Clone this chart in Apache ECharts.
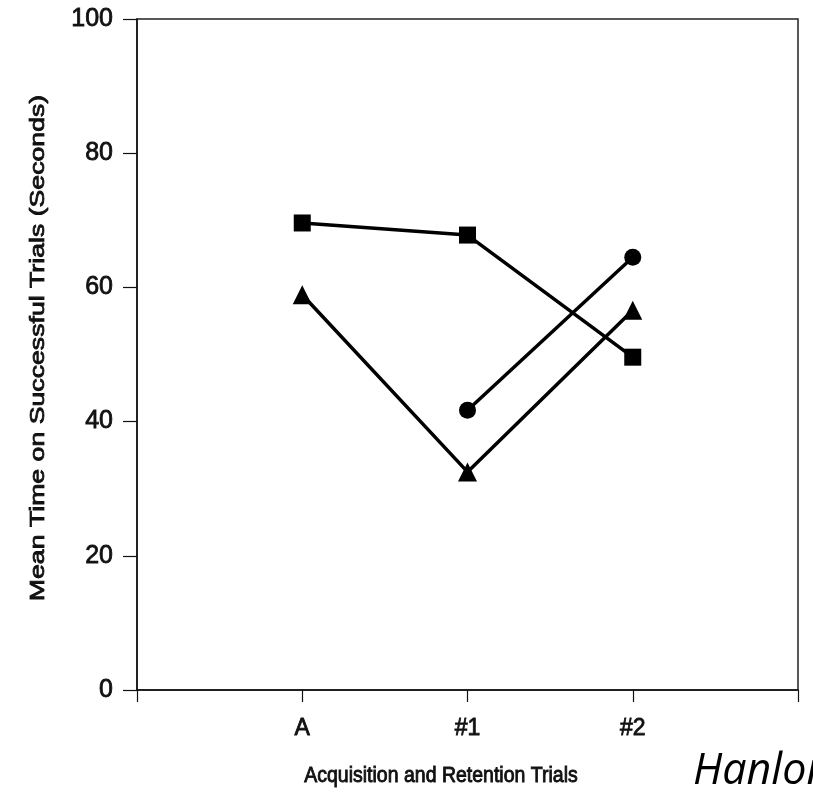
<!DOCTYPE html>
<html>
<head>
<meta charset="utf-8">
<script src="https://cdn.jsdelivr.net/npm/echarts@6/dist/echarts.min.js"></script>
<style>html,body{margin:0;padding:0;background:#fff}#c{width:813px;height:793px}</style>
</head>
<body>
<div id="c"></div>
<script>
const categories = ['', 'A', '#1', '#2', ''];
const squareValues = [69.6, 67.8, 49.6];
const triangleValues = [58.9, 32.5, 56.6];
const circleValues = [null, 41.7, 64.5];
const yTicks = [0, 20, 40, 60, 80, 100];
const xTitle = 'Acquisition and Retention Trials';
const yTitle = 'Mean Time on Successful Trials (Seconds)';

function toPairs(vals) {
  return vals.map((v, i) => v == null ? null : [i + 1, v]).filter(p => p);
}
const FF = 'Liberation Sans, Arial, sans-serif';
const txt = {fontFamily: FF, color: '#111', textBorderColor: '#111', textBorderWidth: 0.8};
const chart = echarts.init(document.getElementById('c'));
const mk = (sym, vals, size) => ({
  type: 'line', data: toPairs(vals), symbol: sym, symbolSize: size,
  lineStyle: {color: '#000', width: 3.5}, itemStyle: {color: '#000'}, animation: false
});
chart.setOption({
  animation: false,
  grid: {left: 137, right: 15, top: 19, bottom: 103, show: true, borderColor: '#222', borderWidth: 1.5},
  xAxis: {
    type: 'value', min: 0, max: 4, interval: 1,
    axisLine: {lineStyle: {color: '#111', width: 1.5}},
    axisTick: {show: true, length: 12, lineStyle: {color: '#111', width: 1.2}},
    axisLabel: Object.assign({fontSize: 23, margin: 27, formatter: v => categories[v] || ''}, txt),
    splitLine: {show: false}
  },
  yAxis: {
    type: 'value', min: yTicks[0], max: yTicks[yTicks.length - 1], interval: 20,
    axisLine: {show: true, lineStyle: {color: '#111', width: 1.5}},
    axisTick: {show: true, length: 14, lineStyle: {color: '#111', width: 1.2}},
    axisLabel: Object.assign({fontSize: 25, margin: 24}, txt),
    splitLine: {show: false}
  },
  graphic: [
    {
      type: 'text', x: 441, y: 776, scaleY: 1.15,
      style: {text: xTitle, font: '19.5px ' + FF, fill: '#111', stroke: '#111', lineWidth: 0.8,
              textAlign: 'center', textVerticalAlign: 'middle'}
    },
    {
      type: 'text', x: 38, y: 348, rotation: Math.PI / 2, scaleX: 1.27,
      style: {text: yTitle, font: '21px ' + FF, fill: '#111', stroke: '#111', lineWidth: 0.8,
              textAlign: 'center', textVerticalAlign: 'middle'}
    },
    {
      type: 'text', left: 693, top: 750,
      style: {text: 'Hanlon', font: 'italic 43px "Open Sans", sans-serif', fill: '#000'}
    }
  ],
  series: [
    mk('rect', squareValues, 17),
    mk('triangle', triangleValues, 19),
    mk('circle', circleValues, 17)
  ]
});
</script>
</body>
</html>
